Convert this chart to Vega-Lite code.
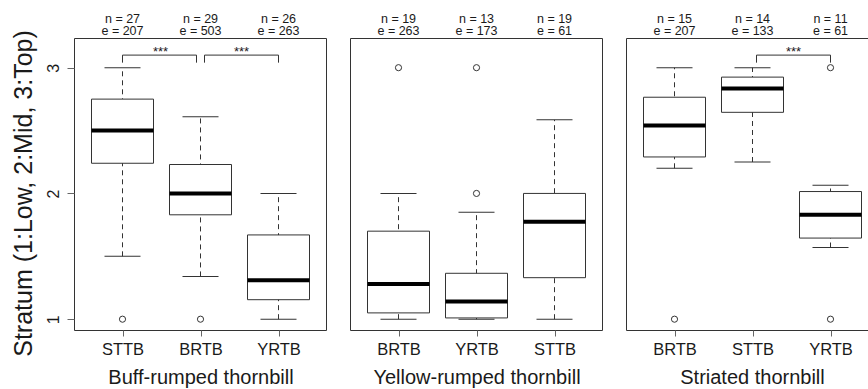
{
  "$schema": "https://vega.github.io/schema/vega-lite/v6.json",
  "background": "white",
  "padding": {"left": 10, "top": 12, "right": 0, "bottom": 0},
  "spacing": 22,
  "config": {
    "font": "Liberation Sans",
    "view": {"stroke": "#333333", "strokeWidth": 1},
    "axis": {
      "labelFont": "Liberation Sans",
      "titleFont": "Liberation Sans",
      "titleFontWeight": "normal",
      "labelColor": "#1a1a1a",
      "titleColor": "#1a1a1a",
      "tickColor": "#666666",
      "grid": false,
      "domain": false
    },
    "text": {"font": "Liberation Sans", "color": "#1a1a1a"}
  },
  "datasets": {
    "boxes": [
      {"species": "Buff-rumped thornbill", "site": "STTB", "n": 27, "e": 207, "lower": 1.5, "q1": 2.24, "median": 2.5, "q3": 2.75, "upper": 3.0},
      {"species": "Buff-rumped thornbill", "site": "BRTB", "n": 29, "e": 503, "lower": 1.34, "q1": 1.83, "median": 2.0, "q3": 2.23, "upper": 2.61},
      {"species": "Buff-rumped thornbill", "site": "YRTB", "n": 26, "e": 263, "lower": 1.0, "q1": 1.155, "median": 1.31, "q3": 1.67, "upper": 2.0},
      {"species": "Yellow-rumped thornbill", "site": "BRTB", "n": 19, "e": 263, "lower": 1.0, "q1": 1.05, "median": 1.28, "q3": 1.7, "upper": 2.0},
      {"species": "Yellow-rumped thornbill", "site": "YRTB", "n": 13, "e": 173, "lower": 1.0, "q1": 1.01, "median": 1.14, "q3": 1.365, "upper": 1.85},
      {"species": "Yellow-rumped thornbill", "site": "STTB", "n": 19, "e": 61, "lower": 1.0, "q1": 1.33, "median": 1.775, "q3": 2.0, "upper": 2.585},
      {"species": "Striated thornbill", "site": "BRTB", "n": 15, "e": 207, "lower": 2.2, "q1": 2.29, "median": 2.54, "q3": 2.765, "upper": 3.0},
      {"species": "Striated thornbill", "site": "STTB", "n": 14, "e": 133, "lower": 2.25, "q1": 2.645, "median": 2.835, "q3": 2.925, "upper": 3.0},
      {"species": "Striated thornbill", "site": "YRTB", "n": 11, "e": 61, "lower": 1.57, "q1": 1.645, "median": 1.83, "q3": 2.015, "upper": 2.065}
    ],
    "outliers": [
      {"species": "Buff-rumped thornbill", "site": "STTB", "value": 1},
      {"species": "Buff-rumped thornbill", "site": "BRTB", "value": 1},
      {"species": "Yellow-rumped thornbill", "site": "BRTB", "value": 3},
      {"species": "Yellow-rumped thornbill", "site": "YRTB", "value": 3},
      {"species": "Yellow-rumped thornbill", "site": "YRTB", "value": 2},
      {"species": "Striated thornbill", "site": "BRTB", "value": 1},
      {"species": "Striated thornbill", "site": "YRTB", "value": 3},
      {"species": "Striated thornbill", "site": "YRTB", "value": 1}
    ],
    "brackets": [
      {"species": "Buff-rumped thornbill", "from": "STTB", "to": "BRTB", "label": "***"},
      {"species": "Buff-rumped thornbill", "from": "BRTB", "to": "YRTB", "label": "***"},
      {"species": "Striated thornbill", "from": "STTB", "to": "YRTB", "label": "***"}
    ]
  },
  "hconcat": [
    {
      "width": 252,
      "height": 292,
      "layer": [
        {
          "data": {"name": "boxes"},
          "transform": [
            {"filter": "datum.species == 'Buff-rumped thornbill'"},
            {"calculate": "'n = ' + datum.n", "as": "nlab"},
            {"calculate": "'e = ' + datum.e", "as": "elab"}
          ],
          "encoding": {
            "x": {"field": "site", "type": "nominal", "title": "Buff-rumped thornbill",
                  "scale": {"type": "point", "domain": ["STTB", "BRTB", "YRTB"], "range": [48.5, 204.5], "padding": 0},
                  "axis": {"labelAngle": 0, "tickSize": 6, "labelFontSize": 16.5, "titleFontSize": 20, "labelPadding": 5, "titlePadding": 10}}
          },
          "layer": [
            {"mark": {"type": "rule", "strokeDash": [5, 4], "color": "#333333", "strokeWidth": 1},
             "encoding": {
               "y": {"field": "lower", "type": "quantitative",
                     "scale": {"domain": [0.914, 3.236], "nice": false, "zero": false},
                     "axis": {"values": [1, 2, 3], "format": "d", "title": "Stratum (1:Low, 2:Mid, 3:Top)", "labelAngle": -90, "tickSize": 7, "labelFontSize": 16, "titleFontSize": 25, "labelPadding": 6, "titlePadding": 9, "titleY": 155}},
               "y2": {"field": "upper"}}},
            {"mark": {"type": "tick", "size": 36, "thickness": 1, "color": "#333333", "opacity": 1},
             "encoding": {"y": {"field": "lower", "type": "quantitative"}}},
            {"mark": {"type": "tick", "size": 36, "thickness": 1, "color": "#333333", "opacity": 1},
             "encoding": {"y": {"field": "upper", "type": "quantitative"}}},
            {"mark": {"type": "bar", "size": 62, "fill": "white", "stroke": "#333333", "strokeWidth": 1},
             "encoding": {"y": {"field": "q1", "type": "quantitative"}, "y2": {"field": "q3"}}},
            {"mark": {"type": "tick", "size": 62, "thickness": 4, "color": "#000000", "opacity": 1},
             "encoding": {"y": {"field": "median", "type": "quantitative"}}},
            {"mark": {"type": "text", "fontSize": 12.5, "baseline": "alphabetic", "dy": -15.5},
             "encoding": {"y": {"datum": 3.236}, "text": {"field": "nlab"}}},
            {"mark": {"type": "text", "fontSize": 12.5, "baseline": "alphabetic", "dy": -3},
             "encoding": {"y": {"datum": 3.236}, "text": {"field": "elab"}}}
          ]
        },
        {
          "data": {"name": "outliers"},
          "transform": [{"filter": "datum.species == 'Buff-rumped thornbill'"}],
          "mark": {"type": "point", "shape": "circle", "filled": false, "size": 38, "color": "#333333", "strokeWidth": 1, "opacity": 1},
          "encoding": {
            "x": {"field": "site", "type": "nominal", "title": "Buff-rumped thornbill"},
            "y": {"field": "value", "type": "quantitative"}
          }
        },
        {
          "data": {"name": "brackets"},
          "transform": [{"filter": "datum.species == 'Buff-rumped thornbill'"}],
          "layer": [
            {"mark": {"type": "rule", "color": "#333333", "strokeWidth": 1,
                      "xOffset": {"expr": "datum.from == 'STTB' ? 0 : 4"},
                      "x2Offset": {"expr": "datum.to == 'YRTB' ? 0 : -4"}},
             "encoding": {"x": {"field": "from", "type": "nominal", "title": "Buff-rumped thornbill"}, "x2": {"field": "to"}, "y": {"datum": 3.1}}},
            {"mark": {"type": "rule", "color": "#333333", "strokeWidth": 1,
                      "xOffset": {"expr": "datum.from == 'STTB' ? 0 : 4"}},
             "encoding": {"x": {"field": "from", "type": "nominal", "title": "Buff-rumped thornbill"}, "y": {"datum": 3.1}, "y2": {"datum": 3.04}}},
            {"mark": {"type": "rule", "color": "#333333", "strokeWidth": 1,
                      "xOffset": {"expr": "datum.to == 'YRTB' ? 0 : -4"}},
             "encoding": {"x": {"field": "to", "type": "nominal", "title": "Buff-rumped thornbill"}, "y": {"datum": 3.1}, "y2": {"datum": 3.04}}},
            {"mark": {"type": "text", "fontSize": 13, "baseline": "alphabetic", "dy": 1,
                      "xOffset": {"expr": "datum.from == 'STTB' ? 38 : 41"}},
             "encoding": {"x": {"field": "from", "type": "nominal", "title": "Buff-rumped thornbill"}, "y": {"datum": 3.1}, "text": {"field": "label"}}}
          ]
        }
      ]
    },
    {
      "width": 252,
      "height": 292,
      "layer": [
        {
          "data": {"name": "boxes"},
          "transform": [
            {"filter": "datum.species == 'Yellow-rumped thornbill'"},
            {"calculate": "'n = ' + datum.n", "as": "nlab"},
            {"calculate": "'e = ' + datum.e", "as": "elab"}
          ],
          "encoding": {
            "x": {"field": "site", "type": "nominal", "title": "Yellow-rumped thornbill",
                  "scale": {"type": "point", "domain": ["BRTB", "YRTB", "STTB"], "range": [48.5, 204.5], "padding": 0},
                  "axis": {"labelAngle": 0, "tickSize": 6, "labelFontSize": 16.5, "titleFontSize": 20, "labelPadding": 5, "titlePadding": 10}}
          },
          "layer": [
            {"mark": {"type": "rule", "strokeDash": [5, 4], "color": "#333333", "strokeWidth": 1},
             "encoding": {
               "y": {"field": "lower", "type": "quantitative",
                     "scale": {"domain": [0.914, 3.236], "nice": false, "zero": false},
                     "axis": null},
               "y2": {"field": "upper"}}},
            {"mark": {"type": "tick", "size": 36, "thickness": 1, "color": "#333333", "opacity": 1},
             "encoding": {"y": {"field": "lower", "type": "quantitative"}}},
            {"mark": {"type": "tick", "size": 36, "thickness": 1, "color": "#333333", "opacity": 1},
             "encoding": {"y": {"field": "upper", "type": "quantitative"}}},
            {"mark": {"type": "bar", "size": 62, "fill": "white", "stroke": "#333333", "strokeWidth": 1},
             "encoding": {"y": {"field": "q1", "type": "quantitative"}, "y2": {"field": "q3"}}},
            {"mark": {"type": "tick", "size": 62, "thickness": 4, "color": "#000000", "opacity": 1},
             "encoding": {"y": {"field": "median", "type": "quantitative"}}},
            {"mark": {"type": "text", "fontSize": 12.5, "baseline": "alphabetic", "dy": -15.5},
             "encoding": {"y": {"datum": 3.236}, "text": {"field": "nlab"}}},
            {"mark": {"type": "text", "fontSize": 12.5, "baseline": "alphabetic", "dy": -3},
             "encoding": {"y": {"datum": 3.236}, "text": {"field": "elab"}}}
          ]
        },
        {
          "data": {"name": "outliers"},
          "transform": [{"filter": "datum.species == 'Yellow-rumped thornbill'"}],
          "mark": {"type": "point", "shape": "circle", "filled": false, "size": 38, "color": "#333333", "strokeWidth": 1, "opacity": 1},
          "encoding": {
            "x": {"field": "site", "type": "nominal", "title": "Yellow-rumped thornbill"},
            "y": {"field": "value", "type": "quantitative"}
          }
        }
      ]
    },
    {
      "width": 243,
      "height": 292,
      "layer": [
        {
          "data": {"name": "boxes"},
          "transform": [
            {"filter": "datum.species == 'Striated thornbill'"},
            {"calculate": "'n = ' + datum.n", "as": "nlab"},
            {"calculate": "'e = ' + datum.e", "as": "elab"}
          ],
          "encoding": {
            "x": {"field": "site", "type": "nominal", "title": "Striated thornbill",
                  "scale": {"type": "point", "domain": ["BRTB", "STTB", "YRTB"], "range": [48.5, 204.5], "padding": 0},
                  "axis": {"labelAngle": 0, "tickSize": 6, "labelFontSize": 16.5, "titleFontSize": 20, "labelPadding": 5, "titlePadding": 10, "titleX": 126}}
          },
          "layer": [
            {"mark": {"type": "rule", "strokeDash": [5, 4], "color": "#333333", "strokeWidth": 1},
             "encoding": {
               "y": {"field": "lower", "type": "quantitative",
                     "scale": {"domain": [0.914, 3.236], "nice": false, "zero": false},
                     "axis": null},
               "y2": {"field": "upper"}}},
            {"mark": {"type": "tick", "size": 36, "thickness": 1, "color": "#333333", "opacity": 1},
             "encoding": {"y": {"field": "lower", "type": "quantitative"}}},
            {"mark": {"type": "tick", "size": 36, "thickness": 1, "color": "#333333", "opacity": 1},
             "encoding": {"y": {"field": "upper", "type": "quantitative"}}},
            {"mark": {"type": "bar", "size": 62, "fill": "white", "stroke": "#333333", "strokeWidth": 1},
             "encoding": {"y": {"field": "q1", "type": "quantitative"}, "y2": {"field": "q3"}}},
            {"mark": {"type": "tick", "size": 62, "thickness": 4, "color": "#000000", "opacity": 1},
             "encoding": {"y": {"field": "median", "type": "quantitative"}}},
            {"mark": {"type": "text", "fontSize": 12.5, "baseline": "alphabetic", "dy": -15.5},
             "encoding": {"y": {"datum": 3.236}, "text": {"field": "nlab"}}},
            {"mark": {"type": "text", "fontSize": 12.5, "baseline": "alphabetic", "dy": -3},
             "encoding": {"y": {"datum": 3.236}, "text": {"field": "elab"}}}
          ]
        },
        {
          "data": {"name": "outliers"},
          "transform": [{"filter": "datum.species == 'Striated thornbill'"}],
          "mark": {"type": "point", "shape": "circle", "filled": false, "size": 38, "color": "#333333", "strokeWidth": 1, "opacity": 1},
          "encoding": {
            "x": {"field": "site", "type": "nominal", "title": "Striated thornbill"},
            "y": {"field": "value", "type": "quantitative"}
          }
        },
        {
          "data": {"name": "brackets"},
          "transform": [{"filter": "datum.species == 'Striated thornbill'"}],
          "layer": [
            {"mark": {"type": "rule", "color": "#333333", "strokeWidth": 1, "xOffset": 4},
             "encoding": {"x": {"field": "from", "type": "nominal", "title": "Striated thornbill"}, "x2": {"field": "to"}, "y": {"datum": 3.1}}},
            {"mark": {"type": "rule", "color": "#333333", "strokeWidth": 1, "xOffset": 4},
             "encoding": {"x": {"field": "from", "type": "nominal", "title": "Striated thornbill"}, "y": {"datum": 3.1}, "y2": {"datum": 3.04}}},
            {"mark": {"type": "rule", "color": "#333333", "strokeWidth": 1},
             "encoding": {"x": {"field": "to", "type": "nominal", "title": "Striated thornbill"}, "y": {"datum": 3.1}, "y2": {"datum": 3.04}}},
            {"mark": {"type": "text", "fontSize": 13, "baseline": "alphabetic", "dy": 1, "xOffset": 41},
             "encoding": {"x": {"field": "from", "type": "nominal", "title": "Striated thornbill"}, "y": {"datum": 3.1}, "text": {"field": "label"}}}
          ]
        }
      ]
    }
  ]
}
